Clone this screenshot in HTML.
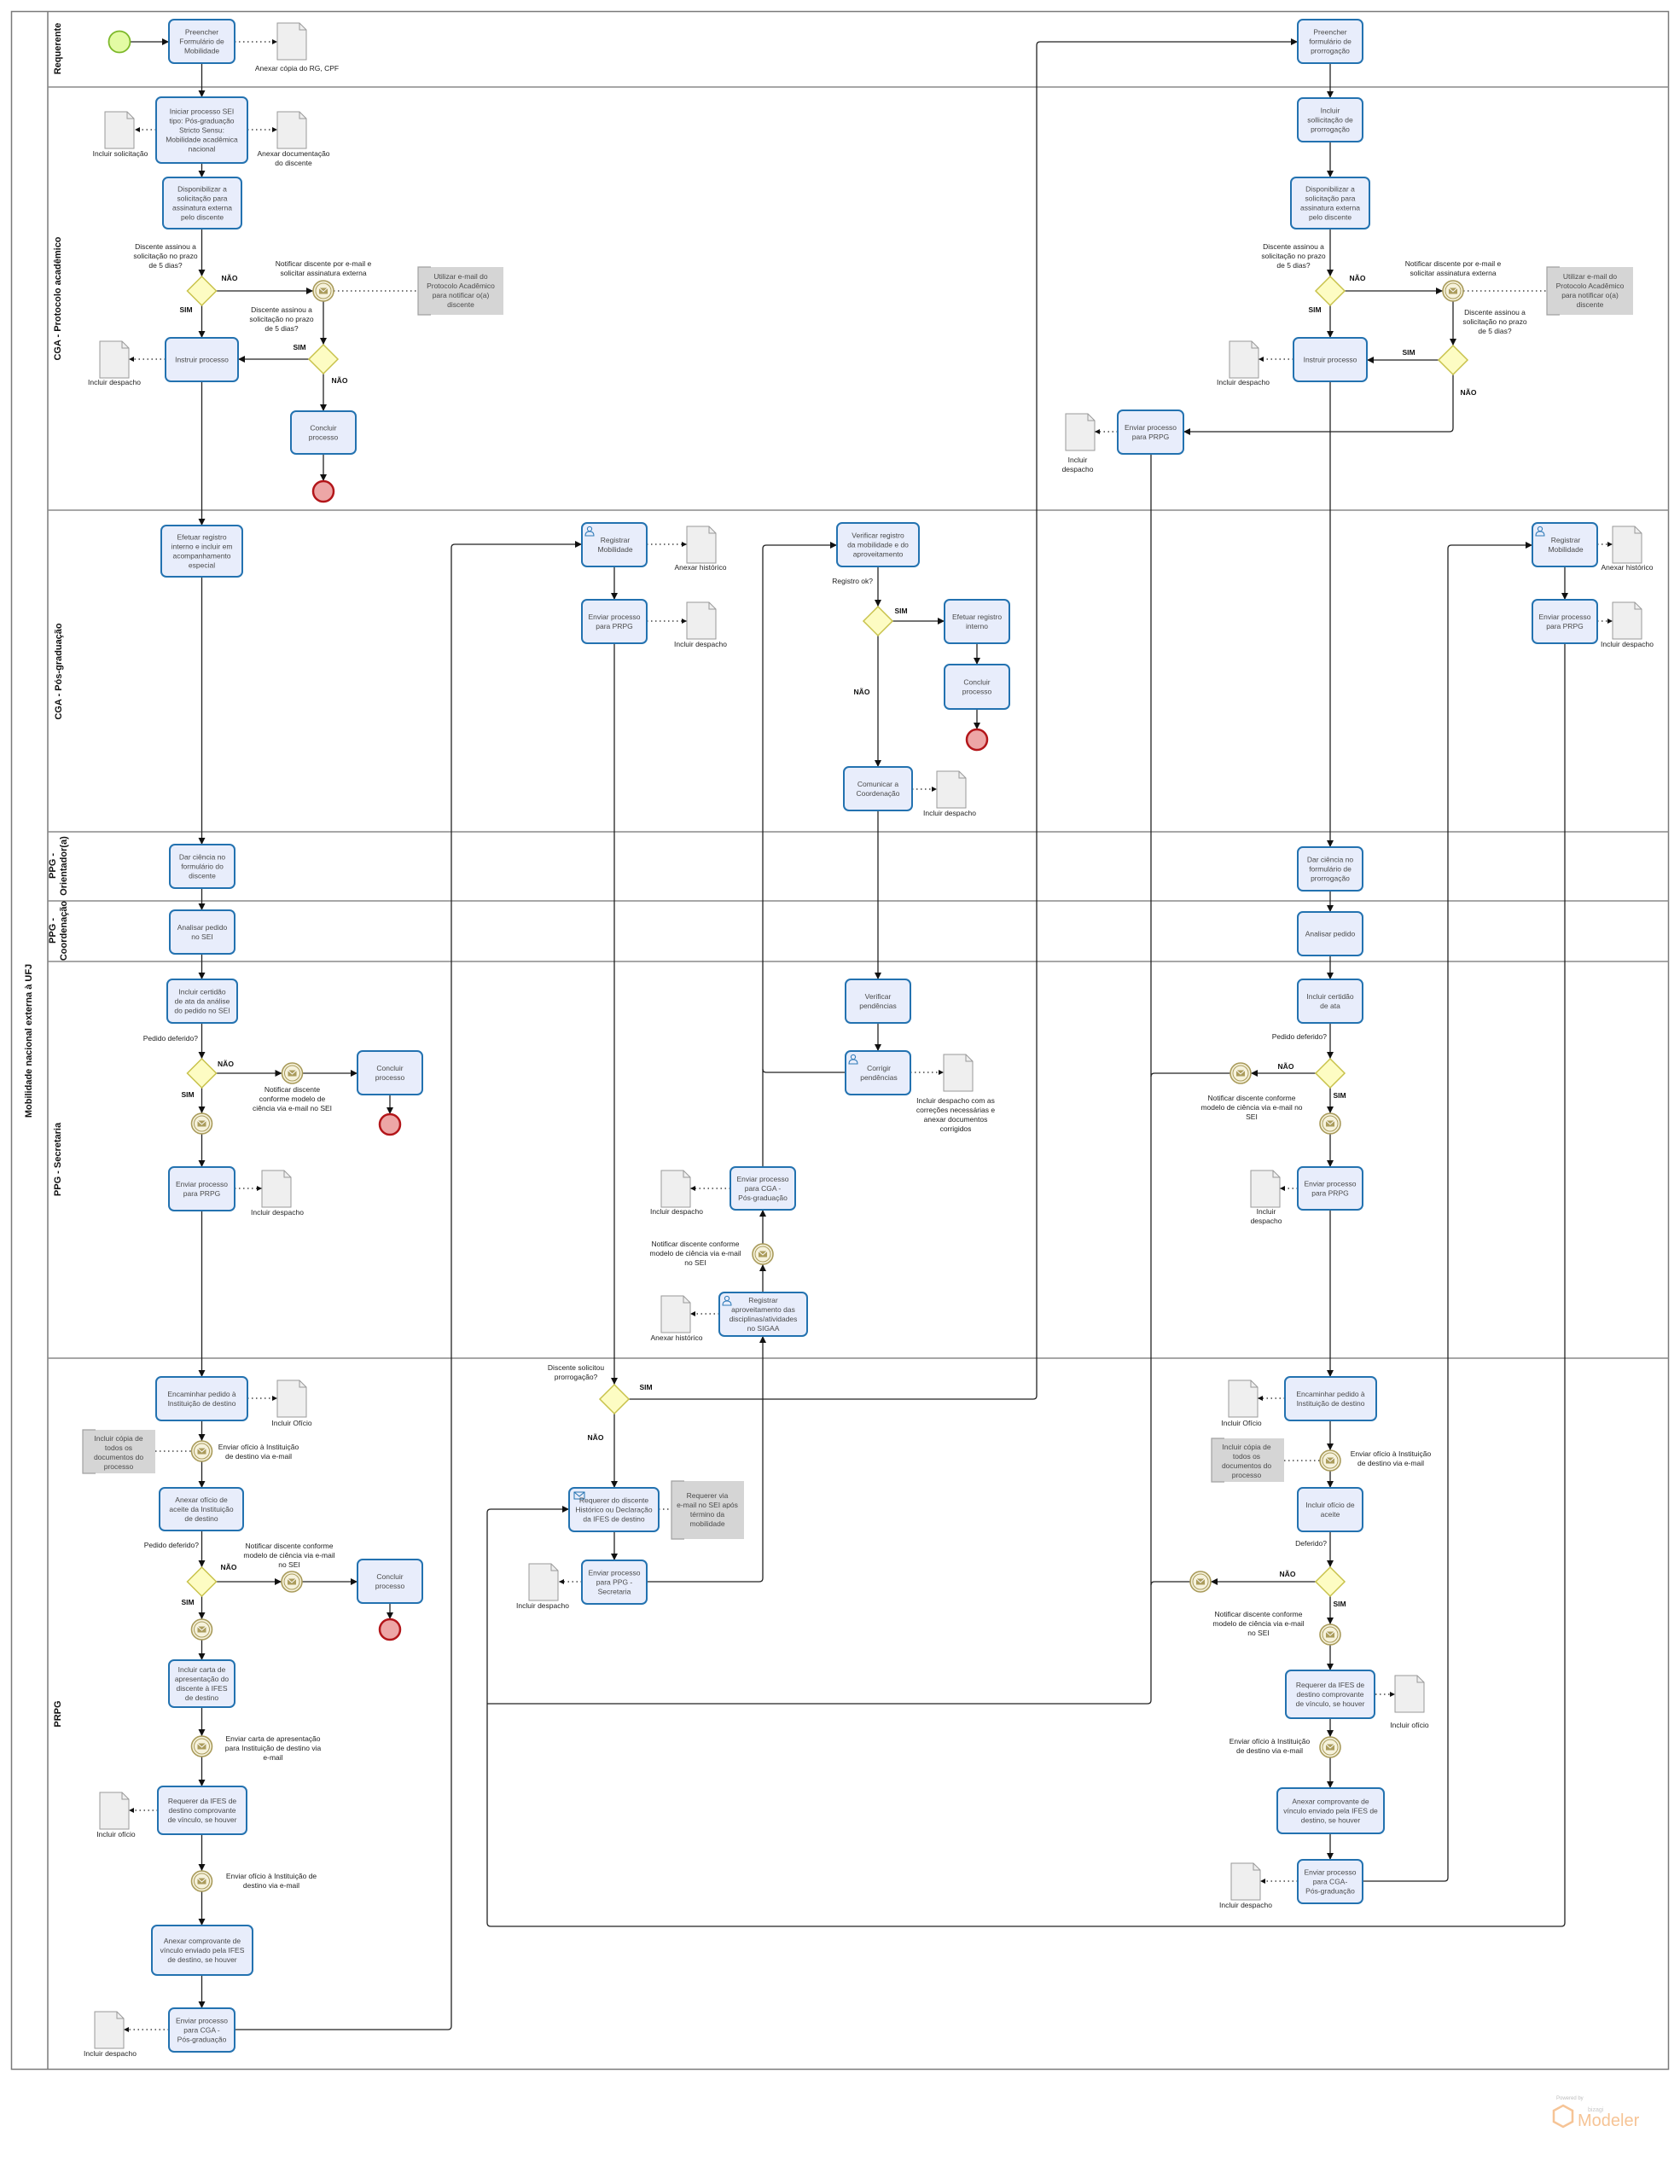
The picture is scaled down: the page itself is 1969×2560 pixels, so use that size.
<!DOCTYPE html>
<html><head><meta charset="utf-8">
<style>
html,body{margin:0;padding:0;background:#fff}
svg{display:block}
.t{fill:#e8edfb;stroke:#2372b0;stroke-width:2}
.tt{font-family:"Liberation Sans",sans-serif;font-size:8.5px;fill:#4a4a4a;text-anchor:middle;dominant-baseline:central}
.lb{font-family:"Liberation Sans",sans-serif;font-size:8.5px;fill:#222;text-anchor:middle;dominant-baseline:central}
.le{font-family:"Liberation Sans",sans-serif;font-size:8.5px;fill:#222;text-anchor:end;dominant-baseline:central}
.b{font-family:"Liberation Sans",sans-serif;font-size:8.5px;font-weight:bold;fill:#111;text-anchor:middle;dominant-baseline:central}
.ln{font-family:"Liberation Sans",sans-serif;font-size:11px;font-weight:bold;fill:#111;text-anchor:middle;dominant-baseline:central}
.sq{stroke:#222;stroke-width:1.3;fill:none;marker-end:url(#a);stroke-linejoin:round}
.sn{stroke:#222;stroke-width:1.3;fill:none;stroke-linejoin:round}
.as{stroke:#222;stroke-width:1.3;stroke-dasharray:1.5 3.5;fill:none;marker-end:url(#s)}
.an{stroke:#222;stroke-width:1.3;stroke-dasharray:1.5 3.5;fill:none}
.ann{fill:#d5d5d5}
.br{stroke:#a0a0a0;stroke-width:1.2;fill:none}
.ui{stroke:#2e7ab8;stroke-width:1;fill:none}
</style></head>
<body>
<svg width="1969" height="2560" viewBox="0 0 1969 2560" xmlns="http://www.w3.org/2000/svg">
<defs>
<marker id="a" viewBox="0 0 10 10" refX="10" refY="5" markerWidth="8" markerHeight="8" markerUnits="userSpaceOnUse" orient="auto"><path d="M0,0L10,5L0,10z" fill="#111"/></marker>
<marker id="s" viewBox="0 0 10 10" refX="10" refY="5" markerWidth="6" markerHeight="6" markerUnits="userSpaceOnUse" orient="auto"><path d="M0,0L10,5L0,10z" fill="#111"/></marker>
<g id="doc"><path d="M0,0H26L34,8V43H0Z" fill="#efefef" stroke="#9a9a9a" stroke-width="1"/><path d="M26,0V8H34" fill="none" stroke="#9a9a9a" stroke-width="1"/></g>
<g id="me"><circle r="12" fill="#f6f2dc" stroke="#a99b5b" stroke-width="1.6"/><circle r="9" fill="none" stroke="#a99b5b" stroke-width="1"/><rect x="-5" y="-3.5" width="10" height="7" fill="#ab9c5c"/><path d="M-5,-3.5L0,1L5,-3.5" stroke="#fff" stroke-width="0.9" fill="none"/></g>
<g id="gw"><polygon points="0,-17 17,0 0,17 -17,0" fill="#fdfcc3" stroke="#c8c24b" stroke-width="1.5"/></g>
<g id="end"><circle r="12" fill="#eda6a6" stroke="#b3161a" stroke-width="2.5"/></g>
<g id="usr"><circle cx="9" cy="7" r="2.6" class="ui"/><path d="M4,15Q4,10 9,10Q14,10 14,15Z" class="ui"/></g>
</defs>

<!-- Pool & lanes -->
<rect x="13.5" y="13.5" width="1942" height="2412" fill="none" stroke="#7a7a7a" stroke-width="1.5"/>
<line x1="56" y1="13.5" x2="56" y2="2425.5" stroke="#7a7a7a" stroke-width="1.5"/>
<g stroke="#8a8a8a" stroke-width="1.5">
<line x1="56" y1="102" x2="1955.5" y2="102"/>
<line x1="56" y1="598" x2="1955.5" y2="598"/>
<line x1="56" y1="975" x2="1955.5" y2="975"/>
<line x1="56" y1="1056" x2="1955.5" y2="1056"/>
<line x1="56" y1="1127" x2="1955.5" y2="1127"/>
<line x1="56" y1="1592" x2="1955.5" y2="1592"/>
</g>
<text class="ln" transform="translate(34,1220) rotate(-90)">Mobilidade nacional externa à UFJ</text>
<text class="ln" transform="translate(68,57) rotate(-90)">Requerente</text>
<text class="ln" transform="translate(68,350) rotate(-90)">CGA - Protocolo acadêmico</text>
<text class="ln" transform="translate(69,787) rotate(-90)">CGA  -  Pós-graduação</text>
<text class="ln" transform="translate(62,1015) rotate(-90)">PPG -</text>
<text class="ln" transform="translate(75,1015) rotate(-90)">Orientador(a)</text>
<text class="ln" transform="translate(62,1091) rotate(-90)">PPG -</text>
<text class="ln" transform="translate(75,1091) rotate(-90)">Coordenação</text>
<text class="ln" transform="translate(68,1359) rotate(-90)">PPG - Secretaria</text>
<text class="ln" transform="translate(68,2009) rotate(-90)">PRPG</text>

<!-- Sequence flows -->
<path class="sq" d="M153,49H198"/>
<path class="sq" d="M236.5,74V114"/>
<path class="sq" d="M236.5,191V208"/>
<path class="sq" d="M236.5,268V324"/>
<path class="sq" d="M236.5,358V396"/>
<path class="sq" d="M253.5,341H367"/>
<path class="sq" d="M379,353V404"/>
<path class="sq" d="M362,421H279"/>
<path class="sq" d="M379,438V482"/>
<path class="sq" d="M379,532V564"/>
<path class="sq" d="M236.5,447V616"/>
<path class="sq" d="M236.5,676V990"/>
<path class="sq" d="M236.5,1041V1067"/>
<path class="sq" d="M236.5,1118V1148"/>
<path class="sq" d="M236.5,1199V1241"/>
<path class="sq" d="M253.5,1258H330.5"/>
<path class="sq" d="M354.5,1258H419"/>
<path class="sq" d="M457,1283V1306"/>
<path class="sq" d="M236.5,1275V1305"/>
<path class="sq" d="M236.5,1329V1368"/>
<path class="sq" d="M236.5,1419V1614"/>
<path class="sq" d="M236.5,1665V1689"/>
<path class="sq" d="M236.5,1713V1744"/>
<path class="sq" d="M236.5,1794V1837"/>
<path class="sq" d="M253.5,1854H330"/>
<path class="sq" d="M354,1854H419"/>
<path class="sq" d="M457,1879V1898"/>
<path class="sq" d="M236.5,1871V1898"/>
<path class="sq" d="M236.5,1922V1946"/>
<path class="sq" d="M236.5,2001V2035"/>
<path class="sq" d="M236.5,2059V2094"/>
<path class="sq" d="M236.5,2150V2193"/>
<path class="sq" d="M236.5,2217V2257"/>
<path class="sq" d="M236.5,2315V2354"/>
<path class="sq" d="M275,2379H525Q529,2379 529,2375V642Q529,638 533,638H682"/>

<path class="sq" d="M720,664V703"/>
<path class="sq" d="M720,754V1623"/>
<path class="sq" d="M737,1640H1211Q1215,1640 1215,1636V53Q1215,49 1219,49H1521"/>
<path class="sq" d="M720,1657V1744"/>
<path class="sq" d="M720,1795V1829"/>
<path class="sq" d="M758,1854H890Q894,1854 894,1850V1566"/>
<path class="sq" d="M894,1515V1482"/>
<path class="sq" d="M894,1458V1418"/>
<path class="sq" d="M894,1368V643Q894,639 898,639H981"/>
<path class="sn" d="M991,1257H898Q894,1257 894,1253"/>
<path class="sq" d="M1029,664V711"/>
<path class="sq" d="M1046,728H1107"/>
<path class="sq" d="M1145,754V779"/>
<path class="sq" d="M1145,831V855"/>
<path class="sq" d="M1029,745V899"/>
<path class="sq" d="M1029,950V1148"/>
<path class="sq" d="M1029,1199V1232"/>
<path class="sq" d="M1834,754V2254Q1834,2258 1830,2258H575Q571,2258 571,2254V1773Q571,1769 575,1769H667"/>
<path class="sn" d="M1349,532V1993Q1349,1997 1345,1997H571"/>
<path class="sn" d="M1442,1258H1353Q1349,1258 1349,1262"/>
<path class="sn" d="M1395,1854H1353Q1349,1854 1349,1858"/>

<path class="sq" d="M1559,74V115"/>
<path class="sq" d="M1559,166V208"/>
<path class="sq" d="M1559,268V324"/>
<path class="sq" d="M1559,358V396"/>
<path class="sq" d="M1576,341H1691"/>
<path class="sq" d="M1703,353V405"/>
<path class="sq" d="M1686,422H1602"/>
<path class="sq" d="M1703,439V502Q1703,506 1699,506H1387"/>
<path class="sq" d="M1559,447V993"/>
<path class="sq" d="M1559,1044V1069"/>
<path class="sq" d="M1559,1120V1148"/>
<path class="sq" d="M1559,1199V1241"/>
<path class="sq" d="M1542,1258H1466"/>
<path class="sq" d="M1559,1275V1305"/>
<path class="sq" d="M1559,1329V1368"/>
<path class="sq" d="M1559,1418V1614"/>
<path class="sq" d="M1559,1665V1700"/>
<path class="sq" d="M1559,1724V1744"/>
<path class="sq" d="M1559,1795V1837"/>
<path class="sq" d="M1542,1854H1419"/>
<path class="sq" d="M1559,1871V1904"/>
<path class="sq" d="M1559,1928V1958"/>
<path class="sq" d="M1559,2014V2036"/>
<path class="sq" d="M1559,2060V2096"/>
<path class="sq" d="M1559,2149V2180"/>
<path class="sq" d="M1597,2205H1693Q1697,2205 1697,2201V643Q1697,639 1701,639H1796"/>
<path class="sq" d="M1834,664V703"/>

<!-- Associations -->
<path class="as" d="M275,49H325"/>
<path class="as" d="M183,152H158"/>
<path class="as" d="M290,152H325"/>
<path class="an" d="M391,341H490"/>
<path class="as" d="M194,421H151"/>
<path class="an" d="M1715,341H1813"/>
<path class="as" d="M1516,421H1475"/>
<path class="as" d="M1310,506H1283"/>
<path class="as" d="M758,638H805"/>
<path class="as" d="M758,728H805"/>
<path class="as" d="M1069,925H1098"/>
<path class="as" d="M1872,638H1890"/>
<path class="as" d="M1872,728H1890"/>
<path class="as" d="M275,1393H307"/>
<path class="as" d="M1067,1257H1106"/>
<path class="as" d="M856,1393H809"/>
<path class="as" d="M843,1540H809"/>
<path class="as" d="M1521,1393H1500"/>
<path class="as" d="M290,1639H325"/>
<path class="an" d="M182,1701H224"/>
<path class="as" d="M185,2122H151"/>
<path class="as" d="M198,2379H145"/>
<path class="an" d="M772,1769H787"/>
<path class="as" d="M682,1854H655"/>
<path class="as" d="M1506,1639H1474"/>
<path class="an" d="M1505,1712H1547"/>
<path class="as" d="M1612,1986H1635"/>
<path class="as" d="M1521,2205H1477"/>

<!-- Start event -->
<circle cx="140" cy="49" r="12.5" fill="#e3fba4" stroke="#7db82a" stroke-width="1.8"/>

<!-- Tasks -->
<rect class="t" x="198" y="23" width="77" height="51" rx="6"/>
<text class="tt" x="236.5" y="37.5">Preencher</text><text class="tt" x="236.5" y="48.5">Formulário de</text><text class="tt" x="236.5" y="59.5">Mobilidade</text>

<rect class="t" x="183" y="114" width="107" height="77" rx="6"/>
<text class="tt" x="236.5" y="130.5">Iniciar processo SEI</text><text class="tt" x="236.5" y="141.5">tipo: Pós-graduação</text><text class="tt" x="236.5" y="152.5">Stricto Sensu:</text><text class="tt" x="236.5" y="163.5">Mobilidade acadêmica</text><text class="tt" x="236.5" y="174.5">nacional</text>

<rect class="t" x="191" y="208" width="92" height="60" rx="6"/>
<text class="tt" x="237" y="221.5">Disponibilizar a</text><text class="tt" x="237" y="232.5">solicitação para</text><text class="tt" x="237" y="243.5">assinatura externa</text><text class="tt" x="237" y="254.5">pelo discente</text>

<rect class="t" x="194" y="396" width="85" height="51" rx="6"/>
<text class="tt" x="236.5" y="421.5">Instruir processo</text>

<rect class="t" x="341" y="482" width="76" height="50" rx="6"/>
<text class="tt" x="379" y="501.5">Concluir</text><text class="tt" x="379" y="512.5">processo</text>

<rect class="t" x="1521" y="23" width="76" height="51" rx="6"/>
<text class="tt" x="1559" y="37.5">Preencher</text><text class="tt" x="1559" y="48.5">formulário de</text><text class="tt" x="1559" y="59.5">prorrogação</text>

<rect class="t" x="1521" y="115" width="76" height="51" rx="6"/>
<text class="tt" x="1559" y="129.5">Incluir</text><text class="tt" x="1559" y="140.5">sollicitação de</text><text class="tt" x="1559" y="151.5">prorrogação</text>

<rect class="t" x="1513" y="208" width="92" height="60" rx="6"/>
<text class="tt" x="1559" y="221.5">Disponibilizar a</text><text class="tt" x="1559" y="232.5">solicitação para</text><text class="tt" x="1559" y="243.5">assinatura externa</text><text class="tt" x="1559" y="254.5">pelo discente</text>

<rect class="t" x="1516" y="396" width="86" height="51" rx="6"/>
<text class="tt" x="1559" y="421.5">Instruir processo</text>

<rect class="t" x="1310" y="481" width="77" height="51" rx="6"/>
<text class="tt" x="1348.5" y="501">Enviar processo</text><text class="tt" x="1348.5" y="512">para PRPG</text>

<rect class="t" x="189" y="616" width="95" height="60" rx="6"/>
<text class="tt" x="236.5" y="629.5">Efetuar registro</text><text class="tt" x="236.5" y="640.5">interno e incluir em</text><text class="tt" x="236.5" y="651.5">acompanhamento</text><text class="tt" x="236.5" y="662.5">especial</text>

<rect class="t" x="682" y="613" width="76" height="51" rx="6"/>
<use href="#usr" x="682" y="613"/>
<text class="tt" x="721" y="633">Registrar</text><text class="tt" x="721" y="644">Mobilidade</text>

<rect class="t" x="682" y="703" width="76" height="51" rx="6"/>
<text class="tt" x="720" y="723">Enviar processo</text><text class="tt" x="720" y="734">para PRPG</text>

<rect class="t" x="981" y="613" width="96" height="51" rx="6"/>
<text class="tt" x="1029" y="627.5">Verificar registro</text><text class="tt" x="1029" y="638.5">da mobilidade e do</text><text class="tt" x="1029" y="649.5">aproveitamento</text>

<rect class="t" x="1107" y="703" width="76" height="51" rx="6"/>
<text class="tt" x="1145" y="723">Efetuar registro</text><text class="tt" x="1145" y="734">interno</text>

<rect class="t" x="1107" y="779" width="76" height="52" rx="6"/>
<text class="tt" x="1145" y="799.5">Concluir</text><text class="tt" x="1145" y="810.5">processo</text>

<rect class="t" x="989" y="899" width="80" height="51" rx="6"/>
<text class="tt" x="1029" y="919">Comunicar a</text><text class="tt" x="1029" y="930">Coordenação</text>

<rect class="t" x="1796" y="613" width="76" height="51" rx="6"/>
<use href="#usr" x="1796" y="613"/>
<text class="tt" x="1835" y="633">Registrar</text><text class="tt" x="1835" y="644">Mobilidade</text>

<rect class="t" x="1796" y="703" width="76" height="51" rx="6"/>
<text class="tt" x="1834" y="723">Enviar processo</text><text class="tt" x="1834" y="734">para PRPG</text>

<rect class="t" x="199" y="990" width="76" height="51" rx="6"/>
<text class="tt" x="237" y="1004.5">Dar ciência no</text><text class="tt" x="237" y="1015.5">formulário do</text><text class="tt" x="237" y="1026.5">discente</text>

<rect class="t" x="199" y="1067" width="76" height="51" rx="6"/>
<text class="tt" x="237" y="1087">Analisar pedido</text><text class="tt" x="237" y="1098">no SEI</text>

<rect class="t" x="1521" y="993" width="76" height="51" rx="6"/>
<text class="tt" x="1559" y="1007.5">Dar ciência no</text><text class="tt" x="1559" y="1018.5">formulário de</text><text class="tt" x="1559" y="1029.5">prorrogação</text>

<rect class="t" x="1521" y="1069" width="76" height="51" rx="6"/>
<text class="tt" x="1559" y="1094.5">Analisar pedido</text>

<rect class="t" x="196" y="1148" width="82" height="51" rx="6"/>
<text class="tt" x="237" y="1162.5">Incluir certidão</text><text class="tt" x="237" y="1173.5">de ata da análise</text><text class="tt" x="237" y="1184.5">do pedido no SEI</text>

<rect class="t" x="419" y="1232" width="76" height="51" rx="6"/>
<text class="tt" x="457" y="1252">Concluir</text><text class="tt" x="457" y="1263">processo</text>

<rect class="t" x="198" y="1368" width="77" height="51" rx="6"/>
<text class="tt" x="236.5" y="1388">Enviar processo</text><text class="tt" x="236.5" y="1399">para PRPG</text>

<rect class="t" x="991" y="1148" width="76" height="51" rx="6"/>
<text class="tt" x="1029" y="1168">Verificar</text><text class="tt" x="1029" y="1179">pendências</text>

<rect class="t" x="991" y="1232" width="76" height="51" rx="6"/>
<use href="#usr" x="991" y="1232"/>
<text class="tt" x="1030" y="1252">Corrigir</text><text class="tt" x="1030" y="1263">pendências</text>

<rect class="t" x="856" y="1368" width="76" height="50" rx="6"/>
<text class="tt" x="894" y="1382">Enviar processo</text><text class="tt" x="894" y="1393">para CGA -</text><text class="tt" x="894" y="1404">Pós-graduação</text>

<rect class="t" x="843" y="1515" width="103" height="51" rx="6"/>
<use href="#usr" x="843" y="1515"/>
<text class="tt" x="894.5" y="1524">Registrar</text><text class="tt" x="894.5" y="1535">aproveitamento das</text><text class="tt" x="894.5" y="1546">disciplinas/atividades</text><text class="tt" x="894.5" y="1557">no SIGAA</text>

<rect class="t" x="1521" y="1148" width="76" height="51" rx="6"/>
<text class="tt" x="1559" y="1168">Incluir certidão</text><text class="tt" x="1559" y="1179">de ata</text>

<rect class="t" x="1521" y="1368" width="76" height="50" rx="6"/>
<text class="tt" x="1559" y="1387.5">Enviar processo</text><text class="tt" x="1559" y="1398.5">para PRPG</text>

<rect class="t" x="183" y="1614" width="107" height="51" rx="6"/>
<text class="tt" x="236.5" y="1634">Encaminhar pedido à</text><text class="tt" x="236.5" y="1645">Instituição de destino</text>

<rect class="t" x="187" y="1744" width="98" height="50" rx="6"/>
<text class="tt" x="236" y="1758">Anexar ofício de</text><text class="tt" x="236" y="1769">aceite da Instituição</text><text class="tt" x="236" y="1780">de destino</text>

<rect class="t" x="419" y="1828" width="76" height="51" rx="6"/>
<text class="tt" x="457" y="1848">Concluir</text><text class="tt" x="457" y="1859">processo</text>

<rect class="t" x="198" y="1946" width="77" height="55" rx="6"/>
<text class="tt" x="236.5" y="1957">Incluir carta de</text><text class="tt" x="236.5" y="1968">apresentação do</text><text class="tt" x="236.5" y="1979">discente à IFES</text><text class="tt" x="236.5" y="1990">de destino</text>

<rect class="t" x="185" y="2094" width="104" height="56" rx="6"/>
<text class="tt" x="237" y="2111">Requerer da IFES de</text><text class="tt" x="237" y="2122">destino comprovante</text><text class="tt" x="237" y="2133">de vínculo, se houver</text>

<rect class="t" x="178" y="2257" width="118" height="58" rx="6"/>
<text class="tt" x="237" y="2275">Anexar comprovante de</text><text class="tt" x="237" y="2286">vínculo enviado pela IFES</text><text class="tt" x="237" y="2297">de destino, se houver</text>

<rect class="t" x="198" y="2354" width="77" height="51" rx="6"/>
<text class="tt" x="236.5" y="2368.5">Enviar processo</text><text class="tt" x="236.5" y="2379.5">para CGA -</text><text class="tt" x="236.5" y="2390.5">Pós-graduação</text>

<rect class="t" x="667" y="1744" width="105" height="51" rx="6"/>
<rect x="673" y="1749" width="12" height="8" fill="none" stroke="#2372b0" stroke-width="1"/><path d="M673,1749L679,1754L685,1749" fill="none" stroke="#2372b0" stroke-width="1"/>
<text class="tt" x="719.5" y="1758.5">Requerer do discente</text><text class="tt" x="719.5" y="1769.5">Histórico ou Declaração</text><text class="tt" x="719.5" y="1780.5">da IFES de destino</text>

<rect class="t" x="682" y="1829" width="76" height="51" rx="6"/>
<text class="tt" x="720" y="1843.5">Enviar processo</text><text class="tt" x="720" y="1854.5">para PPG -</text><text class="tt" x="720" y="1865.5">Secretaria</text>

<rect class="t" x="1506" y="1614" width="107" height="51" rx="6"/>
<text class="tt" x="1559.5" y="1634">Encaminhar pedido à</text><text class="tt" x="1559.5" y="1645">Instituição de destino</text>

<rect class="t" x="1521" y="1744" width="76" height="51" rx="6"/>
<text class="tt" x="1559" y="1764">Incluir ofício de</text><text class="tt" x="1559" y="1775">aceite</text>

<rect class="t" x="1507" y="1958" width="104" height="56" rx="6"/>
<text class="tt" x="1559" y="1975">Requerer da IFES de</text><text class="tt" x="1559" y="1986">destino comprovante</text><text class="tt" x="1559" y="1997">de vínculo, se houver</text>

<rect class="t" x="1497" y="2096" width="125" height="53" rx="6"/>
<text class="tt" x="1559.5" y="2111.5">Anexar comprovante de</text><text class="tt" x="1559.5" y="2122.5">vínculo enviado pela IFES de</text><text class="tt" x="1559.5" y="2133.5">destino, se houver</text>

<rect class="t" x="1521" y="2180" width="76" height="51" rx="6"/>
<text class="tt" x="1559" y="2194.5">Enviar processo</text><text class="tt" x="1559" y="2205.5">para CGA-</text><text class="tt" x="1559" y="2216.5">Pós-graduação</text>

<!-- Gateways -->
<use href="#gw" x="236.5" y="341"/>
<use href="#gw" x="379" y="421"/>
<use href="#gw" x="1559" y="341"/>
<use href="#gw" x="1703" y="422"/>
<use href="#gw" x="1029" y="728"/>
<use href="#gw" x="720" y="1640"/>
<use href="#gw" x="236.5" y="1258"/>
<use href="#gw" x="1559" y="1258"/>
<use href="#gw" x="236.5" y="1854"/>
<use href="#gw" x="1559" y="1854"/>

<!-- Message events -->
<use href="#me" x="379" y="341"/>
<use href="#me" x="1703" y="341"/>
<use href="#me" x="342.5" y="1258"/>
<use href="#me" x="236.5" y="1317"/>
<use href="#me" x="894" y="1470"/>
<use href="#me" x="1454" y="1258"/>
<use href="#me" x="1559" y="1317"/>
<use href="#me" x="236.5" y="1701"/>
<use href="#me" x="342" y="1854"/>
<use href="#me" x="236.5" y="1910"/>
<use href="#me" x="236.5" y="2047"/>
<use href="#me" x="236.5" y="2205"/>
<use href="#me" x="1559" y="1712"/>
<use href="#me" x="1407" y="1854"/>
<use href="#me" x="1559" y="1916"/>
<use href="#me" x="1559" y="2048"/>

<!-- End events -->
<use href="#end" x="379" y="576"/>
<use href="#end" x="1145" y="867"/>
<use href="#end" x="457" y="1318"/>
<use href="#end" x="457" y="1910"/>

<!-- Documents -->
<use href="#doc" x="325" y="27"/><text class="lb" x="348" y="80">Anexar cópia do RG, CPF</text>
<use href="#doc" x="123" y="131"/><text class="lb" x="141" y="180">Incluir solicitação</text>
<use href="#doc" x="325" y="131"/><text class="lb" x="344" y="180">Anexar documentação</text><text class="lb" x="344" y="191">do discente</text>
<use href="#doc" x="117" y="400"/><text class="lb" x="134" y="448">Incluir despacho</text>
<use href="#doc" x="1441" y="400"/><text class="lb" x="1457" y="448">Incluir despacho</text>
<use href="#doc" x="1249" y="485"/><text class="lb" x="1263" y="539">Incluir</text><text class="lb" x="1263" y="550">despacho</text>
<use href="#doc" x="805" y="617"/><text class="lb" x="821" y="665">Anexar histórico</text>
<use href="#doc" x="805" y="706"/><text class="lb" x="821" y="755">Incluir despacho</text>
<use href="#doc" x="1098" y="904"/><text class="lb" x="1113" y="953">Incluir despacho</text>
<use href="#doc" x="1890" y="617"/><text class="lb" x="1907" y="665">Anexar histórico</text>
<use href="#doc" x="1890" y="706"/><text class="lb" x="1907" y="755">Incluir despacho</text>
<use href="#doc" x="307" y="1372"/><text class="lb" x="325" y="1421">Incluir despacho</text>
<use href="#doc" x="1106" y="1236"/><text class="lb" x="1120" y="1290">Incluir despacho com as</text><text class="lb" x="1120" y="1301">correções necessárias e</text><text class="lb" x="1120" y="1312">anexar documentos</text><text class="lb" x="1120" y="1323">corrigidos</text>
<use href="#doc" x="775" y="1372"/><text class="lb" x="793" y="1420">Incluir despacho</text>
<use href="#doc" x="775" y="1519"/><text class="lb" x="793" y="1568">Anexar histórico</text>
<use href="#doc" x="1466" y="1372"/><text class="lb" x="1484" y="1420">Incluir</text><text class="lb" x="1484" y="1431">despacho</text>
<use href="#doc" x="325" y="1618"/><text class="lb" x="342" y="1668">Incluir Ofício</text>
<use href="#doc" x="117" y="2101"/><text class="lb" x="136" y="2150">Incluir ofício</text>
<use href="#doc" x="111" y="2358"/><text class="lb" x="129" y="2407">Incluir despacho</text>
<use href="#doc" x="620" y="1833"/><text class="lb" x="636" y="1882">Incluir despacho</text>
<use href="#doc" x="1440" y="1618"/><text class="lb" x="1455" y="1668">Incluir Ofício</text>
<use href="#doc" x="1635" y="1964"/><text class="lb" x="1652" y="2022">Incluir ofício</text>
<use href="#doc" x="1443" y="2184"/><text class="lb" x="1460" y="2233">Incluir despacho</text>

<!-- Annotations -->
<rect class="ann" x="490" y="313" width="100" height="56"/><path class="br" d="M505,313H490V369H505"/>
<text class="tt" x="540" y="324">Utilizar e-mail do</text><text class="tt" x="540" y="335">Protocolo Acadêmico</text><text class="tt" x="540" y="346">para notificar o(a)</text><text class="tt" x="540" y="357">discente</text>
<rect class="ann" x="1813" y="313" width="101" height="56"/><path class="br" d="M1828,313H1813V369H1828"/>
<text class="tt" x="1863.5" y="324">Utilizar e-mail do</text><text class="tt" x="1863.5" y="335">Protocolo Acadêmico</text><text class="tt" x="1863.5" y="346">para notificar o(a)</text><text class="tt" x="1863.5" y="357">discente</text>
<rect class="ann" x="97" y="1676" width="85" height="51"/><path class="br" d="M112,1676H97V1727H112"/>
<text class="tt" x="139" y="1686">Incluir cópia de</text><text class="tt" x="139" y="1697">todos os</text><text class="tt" x="139" y="1708">documentos do</text><text class="tt" x="139" y="1719">processo</text>
<rect class="ann" x="787" y="1736" width="85" height="68"/><path class="br" d="M802,1736H787V1804H802"/>
<text class="tt" x="829" y="1753">Requerer via</text><text class="tt" x="829" y="1764">e-mail no SEI após</text><text class="tt" x="829" y="1775">término da</text><text class="tt" x="829" y="1786">mobilidade</text>
<rect class="ann" x="1420" y="1686" width="85" height="51"/><path class="br" d="M1435,1686H1420V1737H1435"/>
<text class="tt" x="1461" y="1696">Incluir cópia de</text><text class="tt" x="1461" y="1707">todos os</text><text class="tt" x="1461" y="1718">documentos do</text><text class="tt" x="1461" y="1729">processo</text>

<!-- Flow labels -->
<text class="lb" x="194" y="289">Discente assinou a</text><text class="lb" x="194" y="300">solicitação no prazo</text><text class="lb" x="194" y="311">de 5 dias?</text>
<text class="b" x="269" y="326">NÃO</text><text class="b" x="218" y="363">SIM</text>
<text class="lb" x="379" y="309">Notificar discente por e-mail e</text><text class="lb" x="379" y="320">solicitar assinatura externa</text>
<text class="lb" x="330" y="363">Discente assinou a</text><text class="lb" x="330" y="374">solicitação no prazo</text><text class="lb" x="330" y="385">de 5 dias?</text>
<text class="b" x="351" y="407">SIM</text><text class="b" x="398" y="446">NÃO</text>

<text class="lb" x="1516" y="289">Discente assinou a</text><text class="lb" x="1516" y="300">solicitação no prazo</text><text class="lb" x="1516" y="311">de 5 dias?</text>
<text class="b" x="1591" y="326">NÃO</text><text class="b" x="1541" y="363">SIM</text>
<text class="lb" x="1703" y="309">Notificar discente por e-mail e</text><text class="lb" x="1703" y="320">solicitar assinatura externa</text>
<text class="lb" x="1752" y="366">Discente assinou a</text><text class="lb" x="1752" y="377">solicitação no prazo</text><text class="lb" x="1752" y="388">de 5 dias?</text>
<text class="b" x="1651" y="413">SIM</text><text class="b" x="1721" y="460">NÃO</text>

<text class="le" x="1023" y="681">Registro ok?</text>
<text class="b" x="1056" y="716">SIM</text><text class="b" x="1010" y="811">NÃO</text>

<text class="le" x="232" y="1217">Pedido deferido?</text>
<text class="b" x="264.5" y="1247">NÃO</text><text class="b" x="220" y="1283">SIM</text>
<text class="lb" x="342.5" y="1277">Notificar discente</text><text class="lb" x="342.5" y="1288">conforme modelo de</text><text class="lb" x="342.5" y="1299">ciência via e-mail no SEI</text>

<text class="lb" x="815" y="1458">Notificar discente conforme</text><text class="lb" x="815" y="1469">modelo de ciência via e-mail</text><text class="lb" x="815" y="1480">no SEI</text>

<text class="le" x="1555" y="1215">Pedido deferido?</text>
<text class="b" x="1507" y="1250">NÃO</text><text class="b" x="1570" y="1284">SIM</text>
<text class="lb" x="1467" y="1287">Notificar discente conforme</text><text class="lb" x="1467" y="1298">modelo de ciência via e-mail no</text><text class="lb" x="1467" y="1309">SEI</text>

<text class="lb" x="303" y="1696">Enviar ofício à Instituição</text><text class="lb" x="303" y="1707">de destino via e-mail</text>
<text class="le" x="233" y="1811">Pedido deferido?</text>
<text class="b" x="268" y="1837">NÃO</text><text class="b" x="220" y="1878">SIM</text>
<text class="lb" x="339" y="1812">Notificar discente conforme</text><text class="lb" x="339" y="1823">modelo de ciência via e-mail</text><text class="lb" x="339" y="1834">no SEI</text>
<text class="lb" x="320" y="2038">Enviar carta de apresentação</text><text class="lb" x="320" y="2049">para Instituição de destino via</text><text class="lb" x="320" y="2060">e-mail</text>
<text class="lb" x="318" y="2199">Enviar ofício à Instituição de</text><text class="lb" x="318" y="2210">destino via e-mail</text>

<text class="lb" x="675" y="1603">Discente solicitou</text><text class="lb" x="675" y="1614">prorrogação?</text>
<text class="b" x="757" y="1626">SIM</text><text class="b" x="698" y="1685">NÃO</text>

<text class="lb" x="1630" y="1704">Enviar ofício à Instituição</text><text class="lb" x="1630" y="1715">de destino via e-mail</text>
<text class="le" x="1555" y="1809">Deferido?</text>
<text class="b" x="1509" y="1845">NÃO</text><text class="b" x="1570" y="1880">SIM</text>
<text class="lb" x="1475" y="1892">Notificar discente conforme</text><text class="lb" x="1475" y="1903">modelo de ciência via e-mail</text><text class="lb" x="1475" y="1914">no SEI</text>
<text class="lb" x="1488" y="2041">Enviar ofício à Instituição</text><text class="lb" x="1488" y="2052">de destino via e-mail</text>

<!-- Logo -->
<text x="1824" y="2461" font-family="Liberation Sans,sans-serif" font-size="6" fill="#bdbdbd">Powered by</text>
<path d="M1832,2468L1843,2474V2487L1832,2493L1821,2487V2474Z" fill="none" stroke="#f6c496" stroke-width="2.5"/>
<text x="1861" y="2475" font-family="Liberation Sans,sans-serif" font-size="7" fill="#c8c8c8">bizagi</text>
<text x="1849" y="2492" font-family="Liberation Sans,sans-serif" font-size="20" fill="#f6c496">Modeler</text>
</svg>
</body></html>
